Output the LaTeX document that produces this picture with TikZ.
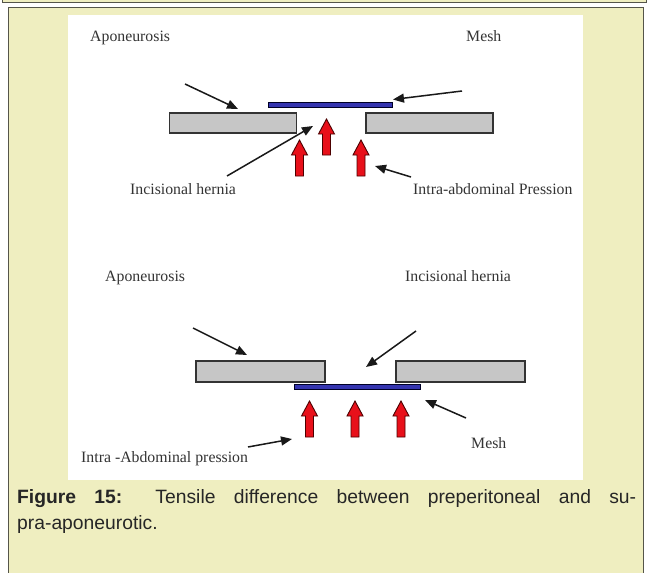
\documentclass[tikz,border=0pt]{standalone}
\usepackage{fontspec}
\setmainfont{Liberation Serif}
\newfontfamily\capfont{Liberation Sans}
\usetikzlibrary{arrows.meta}
\definecolor{beige}{HTML}{EFEEC0}
\definecolor{framec}{HTML}{55554A}
\definecolor{slabc}{HTML}{C6C6C6}
\definecolor{meshblue}{HTML}{3535B0}
\definecolor{pushred}{HTML}{E8101A}
\begin{document}
\begin{tikzpicture}[x=1pt,y=-1pt,
  lbl/.style={anchor=base west, inner sep=0pt, font=\fontsize{15.8}{18}\selectfont, text=black!80},
  slabbox/.style={draw=black!80, line width=1.3pt, fill=slabc, inner sep=0pt},
  meshbar/.style={draw=black!85!blue, line width=0.9pt, fill=meshblue, inner sep=0pt},
  ptr/.style={-{Triangle[length=11pt,width=9pt]}, line width=1.5pt, black!90},
  capstyle/.style={anchor=base west, inner sep=0pt, font=\capfont\fontsize{19.3}{24}\selectfont, text=black!85},
  push/.pic={\draw[fill=pushred, draw=black!70!red, line width=0.9pt, line join=miter]
     (-4,36) -- (-4,15) -- (-8,15) -- (0,0) -- (8,15) -- (4,15) -- (4,36) -- cycle;}
]
\useasboundingbox (0,0) rectangle (651,573);
\fill[white] (0,0) rectangle (651,573);
% frames
\draw[fill=beige, draw=framec, line width=1pt] (2,-6) rectangle (646,2);
\draw[fill=beige, draw=framec, line width=1pt] (8,7) rectangle (643,590);
\fill[white] (68,15) rectangle (583,480);

% ---------- top diagram ----------
\node[lbl] (tapo) at (90,41) {Aponeurosis};
\node[lbl] (tmeshl) at (466,41) {Mesh};
\node[lbl] (therl) at (130,194) {Incisional hernia};
\node[lbl] (tpres) at (413,194) {Intra-abdominal Pression};

\node[slabbox, minimum width=127pt, minimum height=20pt] (tslabL) at (233,123) {};
\node[slabbox, minimum width=127pt, minimum height=20pt] (tslabR) at (429.5,123) {};
\node[meshbar, minimum width=124pt, minimum height=5pt] (tmesh) at (330,104.5) {};

\pic at (299.5,140) {push};
\pic at (326.5,119) {push};
\pic at (361,140) {push};

\coordinate (t1s) at (185,84);  \coordinate (t1e) at (238,109);
\coordinate (t2s) at (462,91);  \coordinate (t2e) at (393,99.5);
\coordinate (t3s) at (227,176); \coordinate (t3e) at (313,126);
\coordinate (t4s) at (411,177); \coordinate (t4e) at (375,166);
\draw[ptr] (t1s) -- (t1e);
\draw[ptr] (t2s) -- (t2e);
\draw[ptr] (t3s) -- (t3e);
\draw[ptr] (t4s) -- (t4e);

% ---------- bottom diagram ----------
\node[lbl] (bapo) at (105,281) {Aponeurosis};
\node[lbl] (bherl) at (405,281) {Incisional hernia};
\node[lbl] (bmeshl) at (471,448) {Mesh};
\node[lbl] (bpres) at (81,462) {Intra\hspace{4pt}-Abdominal pression};

\node[slabbox, minimum width=129pt, minimum height=21pt] (bslabL) at (260.5,371.5) {};
\node[slabbox, minimum width=129pt, minimum height=21pt] (bslabR) at (460.5,371.5) {};
\node[meshbar, minimum width=126pt, minimum height=5pt] (bmesh) at (357,386.5) {};

\pic at (309.5,401) {push};
\pic at (355,401) {push};
\pic at (401,401) {push};

\coordinate (b1s) at (193,328); \coordinate (b1e) at (247,355);
\coordinate (b2s) at (416,331); \coordinate (b2e) at (366,367);
\coordinate (b3s) at (466,418); \coordinate (b3e) at (425,400);
\coordinate (b4s) at (248,447); \coordinate (b4e) at (292,439);
\draw[ptr] (b1s) -- (b1e);
\draw[ptr] (b2s) -- (b2e);
\draw[ptr] (b3s) -- (b3e);
\draw[ptr] (b4s) -- (b4e);

% ---------- caption ----------
\node[capstyle] (cap1) at (17,503) {\makebox[619pt][s]{\textbf{Figure 15:} Tensile difference between preperitoneal and su-}};
\node[capstyle] (cap2) at (17,529) {pra-aponeurotic.};
\end{tikzpicture}
\end{document}
